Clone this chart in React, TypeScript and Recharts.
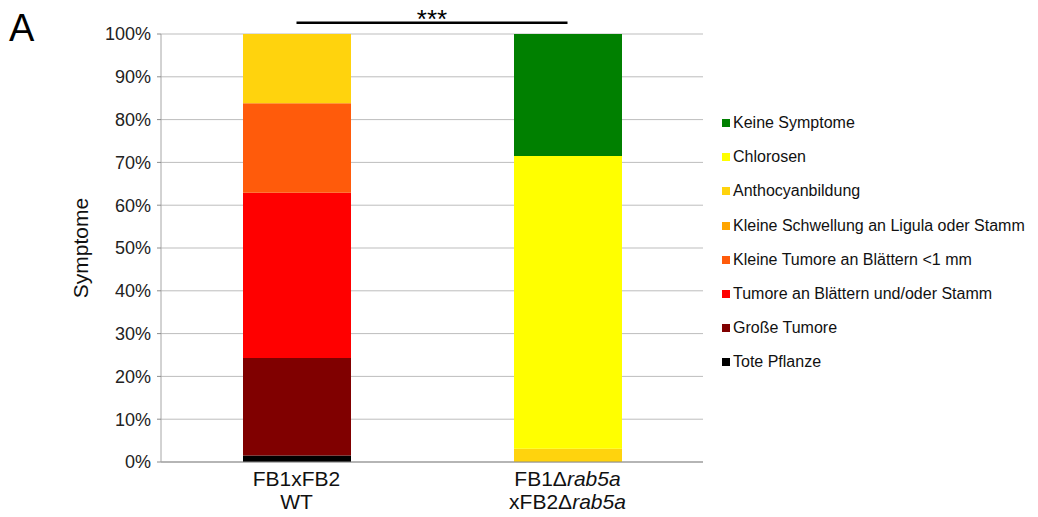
import React from 'react';
import { BarChart, Bar, XAxis, YAxis, CartesianGrid, Legend, ReferenceLine } from 'recharts';

const FONT = '"Liberation Sans", Arial, sans-serif';

const categories = ['FB1xFB2|WT', 'FB1\u0394rab5a|xFB2\u0394rab5a'];

// values per category [WT, Δrab5a] in percent
const totePflanze = [1.5, 0];
const grosseTumore = [22.8, 0];
const tumoreBlaetterStamm = [38.6, 0];
const kleineTumore = [20.9, 0];
const kleineSchwellung = [0, 0];
const anthocyanbildung = [16.2, 3.1];
const chlorosen = [0, 68.4];
const keineSymptome = [0, 28.5];

const yTicks = [0, 10, 20, 30, 40, 50, 60, 70, 80, 90, 100];
const significanceLevel = 102.6;
const significanceLabel = '***';

const series = [
  { key: 'tote', name: 'Tote Pflanze', color: '#000000', values: totePflanze },
  { key: 'gross', name: 'Große Tumore', color: '#800000', values: grosseTumore },
  { key: 'tumore', name: 'Tumore an Blättern und/oder Stamm', color: '#FF0000', values: tumoreBlaetterStamm },
  { key: 'klein', name: 'Kleine Tumore an Blättern <1 mm', color: '#FF5B0B', values: kleineTumore },
  { key: 'schwell', name: 'Kleine Schwellung an Ligula oder Stamm', color: '#FFA500', values: kleineSchwellung },
  { key: 'antho', name: 'Anthocyanbildung', color: '#FFD30D', values: anthocyanbildung },
  { key: 'chlor', name: 'Chlorosen', color: '#FFFF00', values: chlorosen },
  { key: 'keine', name: 'Keine Symptome', color: '#008000', values: keineSymptome },
];

const data = categories.map((c, i) => {
  const row: any = { category: c };
  series.forEach((s) => { row[s.key] = s.values[i]; });
  return row;
});

const renderLine = (line: string) => {
  const parts = line.split(/(rab5a)/).filter((p) => p.length > 0);
  return parts.map((p, i) => (
    <tspan key={i} fontStyle={p === 'rab5a' ? 'italic' : 'normal'}>{p}</tspan>
  ));
};

const CategoryTick = (props: any) => {
  const { x, y, payload } = props;
  const lines = String(payload.value).split('|');
  return (
    <g>
      {lines.map((l, i) => (
        <text key={i} x={x} y={y + 16 + i * 23} textAnchor="middle" fontSize={21} fontFamily={FONT} fill="#111">
          {renderLine(l)}
        </text>
      ))}
    </g>
  );
};

const LegendContent = (props: any) => {
  const payload = [...(props.payload || [])];
  const order = series.map((s) => s.name).reverse();
  payload.sort((a: any, b: any) => order.indexOf(a.value) - order.indexOf(b.value));
  return (
    <div style={{ fontFamily: FONT, fontSize: 16, color: '#111', whiteSpace: 'nowrap' }}>
      {payload.map((p: any) => (
        <div key={p.value} style={{ height: 34.2, display: 'flex', alignItems: 'center', paddingLeft: 19 }}>
          <span style={{ display: 'inline-block', width: 8, height: 8, background: p.color, marginRight: 3, flex: 'none' }} />
          <span>{p.value}</span>
        </div>
      ))}
    </div>
  );
};

const YLabel = (props: any) => {
  const vb = props.viewBox || {};
  const x = vb.x + 27;
  const y = vb.y + vb.height / 2;
  return (
    <text x={x} y={y} transform={`rotate(-90, ${x}, ${y})`} textAnchor="middle" fontSize={21} fontFamily={FONT} fill="#111">
      Symptome
    </text>
  );
};

export default function App() {
  return (
    <div style={{ position: 'absolute', left: 0, top: 0, width: 1038, height: 517, background: '#fff' }}>
      <div style={{ position: 'absolute', left: 9, top: 7, fontFamily: FONT, fontSize: 38, color: '#000' }}>A</div>
      <BarChart
        width={1038}
        height={517}
        data={data}
        margin={{ top: 34, right: 15, bottom: 5, left: 61 }}
        barSize={108}
      >
        <CartesianGrid vertical={false} stroke="#bdbdbd" strokeWidth={1} />
        <XAxis
          dataKey="category"
          height={50}
          tickLine={false}
          axisLine={{ stroke: '#8c8c8c', strokeWidth: 1 }}
          tick={<CategoryTick />}
          interval={0}
        />
        <YAxis
          width={100}
          domain={[0, 100]}
          ticks={yTicks}
          tickFormatter={(v: number) => `${v}%`}
          tickSize={4}
          tickMargin={6}
          tickLine={{ stroke: '#8c8c8c' }}
          axisLine={{ stroke: '#a6a6a6' }}
          tick={{ fontSize: 18, fontFamily: FONT, fill: '#222' }}
          label={<YLabel />}
          allowDataOverflow
        />
        {series.map((s) => (
          <Bar key={s.key} dataKey={s.key} name={s.name} stackId="a" fill={s.color} isAnimationActive={false} />
        ))}
        <ReferenceLine
          segment={[
            { x: categories[0], y: significanceLevel },
            { x: categories[1], y: significanceLevel },
          ]}
          ifOverflow="visible"
          stroke="#000"
          strokeWidth={2.5}
          label={{ value: significanceLabel, position: 'top', fontSize: 26, fill: '#000', fontFamily: FONT, offset: -5 }}
        />
        <Legend
          layout="vertical"
          align="right"
          verticalAlign="top"
          width={320}
          wrapperStyle={{ top: 106, right: 15 }}
          content={<LegendContent />}
        />
      </BarChart>
    </div>
  );
}
